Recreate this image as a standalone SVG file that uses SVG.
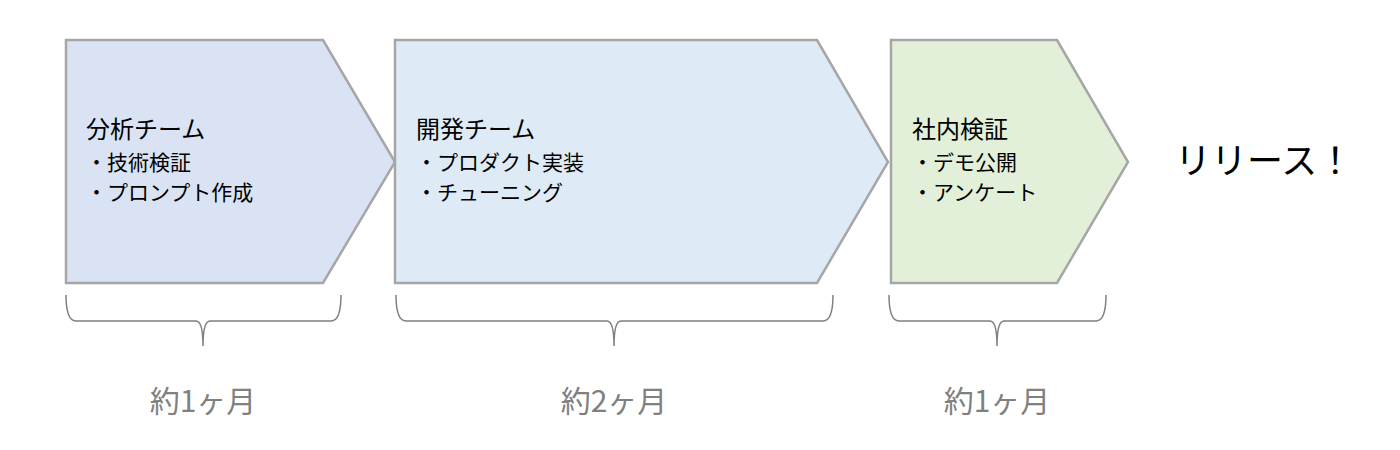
<svg xmlns="http://www.w3.org/2000/svg" width="1400" height="450" viewBox="0 0 1400 450">
<style>
.sh{stroke:#a6a6a6;stroke-width:2.5}
.br{fill:none;stroke:#7f7f7f;stroke-width:1.5}
.t{font-family:"Noto Sans CJK JP",sans-serif;fill:#000}
.h{font-size:24px}.b{font-size:21px}
.d{font-family:"Noto Sans CJK JP",sans-serif;font-size:30px;fill:#808080;text-anchor:middle}
</style>
<rect width="1400" height="450" fill="#fff"/>
<g id="n1"><polygon class="sh" fill="#dae3f3" points="66,40 323,40 395,162 323,283 66,283"/>
<text class="t h" x="86" y="138">分析チーム</text>
<text class="t b" x="86" y="170">・技術検証</text>
<text class="t b" x="86" y="200">・プロンプト作成</text></g>
<g id="n2"><polygon class="sh" fill="#deebf7" points="395,40 817,40 888,162 817,283 395,283"/>
<text class="t h" x="416" y="138">開発チーム</text>
<text class="t b" x="416" y="170">・プロダクト実装</text>
<text class="t b" x="416" y="200">・チューニング</text></g>
<g id="n3"><polygon class="sh" fill="#e2f0d9" points="891,40 1057,40 1128,162 1057,283 891,283"/>
<text class="t h" x="912" y="138">社内検証</text>
<text class="t b" x="912" y="170">・デモ公開</text>
<text class="t b" x="912" y="200">・アンケート</text></g>
<g id="release"><text class="t" x="1175" y="174" font-size="36">リリース！</text></g>
<g id="connectors">
<path class="br" d="M66,295 Q66,321 76,321 L196,321 Q203,321 203,346 Q203,321 210,321 L331,321 Q341,321 341,295"/>
<path class="br" d="M396,295 Q396,321 406,321 L607,321 Q614,321 614,346 Q614,321 621,321 L823,321 Q833,321 833,295"/>
<path class="br" d="M889,295 Q889,321 899,321 L990,321 Q997,321 997,346 Q997,321 1004,321 L1096,321 Q1106,321 1106,295"/>
</g>
<g id="labels">
<text class="d" x="203" y="412">約1ヶ月</text>
<text class="d" x="614" y="412">約2ヶ月</text>
<text class="d" x="997" y="412">約1ヶ月</text>
</g>
</svg>
